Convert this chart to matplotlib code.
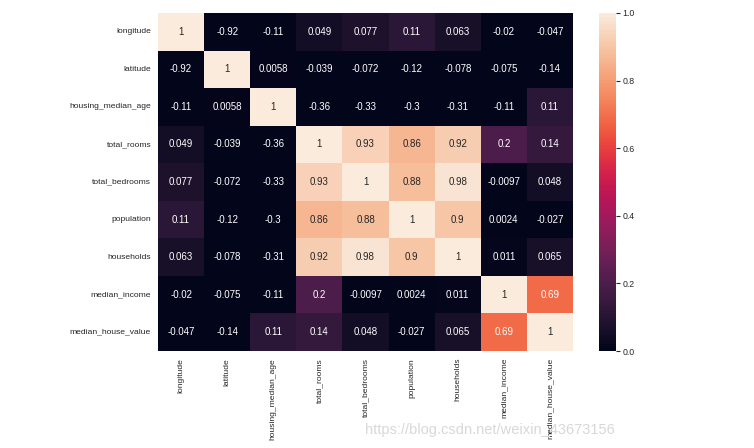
import numpy as np
import matplotlib
matplotlib.use('Agg')
import matplotlib.pyplot as plt
import seaborn as sns

### DATA
cols = ['longitude', 'latitude', 'housing_median_age', 'total_rooms',
        'total_bedrooms', 'population', 'households', 'median_income',
        'median_house_value']

longitude = [1, -0.92, -0.11, 0.049, 0.077, 0.11, 0.063, -0.02, -0.047]
latitude = [-0.92, 1, 0.0058, -0.039, -0.072, -0.12, -0.078, -0.075, -0.14]
housing_median_age = [-0.11, 0.0058, 1, -0.36, -0.33, -0.3, -0.31, -0.11, 0.11]
total_rooms = [0.049, -0.039, -0.36, 1, 0.93, 0.86, 0.92, 0.2, 0.14]
total_bedrooms = [0.077, -0.072, -0.33, 0.93, 1, 0.88, 0.98, -0.0097, 0.048]
population = [0.11, -0.12, -0.3, 0.86, 0.88, 1, 0.9, 0.0024, -0.027]
households = [0.063, -0.078, -0.31, 0.92, 0.98, 0.9, 1, 0.011, 0.065]
median_income = [-0.02, -0.075, -0.11, 0.2, -0.0097, 0.0024, 0.011, 1, 0.69]
median_house_value = [-0.047, -0.14, 0.11, 0.14, 0.048, -0.027, 0.065, 0.69, 1]

corr = np.array([longitude, latitude, housing_median_age, total_rooms,
                 total_bedrooms, population, households, median_income,
                 median_house_value])

plt.rcParams['font.family'] = ['Liberation Sans', 'DejaVu Sans']
plt.rcParams['text.color'] = '#262626'
plt.rcParams['xtick.color'] = '#262626'
plt.rcParams['ytick.color'] = '#262626'

fig = plt.figure(figsize=(7.54, 4.48), dpi=100)
ax = fig.add_axes([0.2096, 0.2165, 0.5504, 0.7545])
cax = fig.add_axes([0.7944, 0.2165, 0.0225, 0.7545])

sns.heatmap(corr, vmin=0, vmax=1, annot=True, annot_kws={'fontsize': 7},
            xticklabels=cols, yticklabels=cols, ax=ax, cbar_ax=cax)

ax.tick_params(axis='both', length=0, labelsize=6.1, pad=5)
plt.setp(ax.get_xticklabels(), rotation=90)
plt.setp(ax.get_yticklabels(), rotation=0)

cax.tick_params(length=3, width=0.8, labelsize=6.3, pad=1.5, color='#262626')
cax.set_yticks([0.0, 0.2, 0.4, 0.6, 0.8, 1.0])

fig.text(0.815, 0.025, 'https://blog.csdn.net/weixin_43673156', ha='right',
         va='bottom', fontsize=10.5, color='#d8d8d8')

fig.savefig('out.png', dpi=100)
